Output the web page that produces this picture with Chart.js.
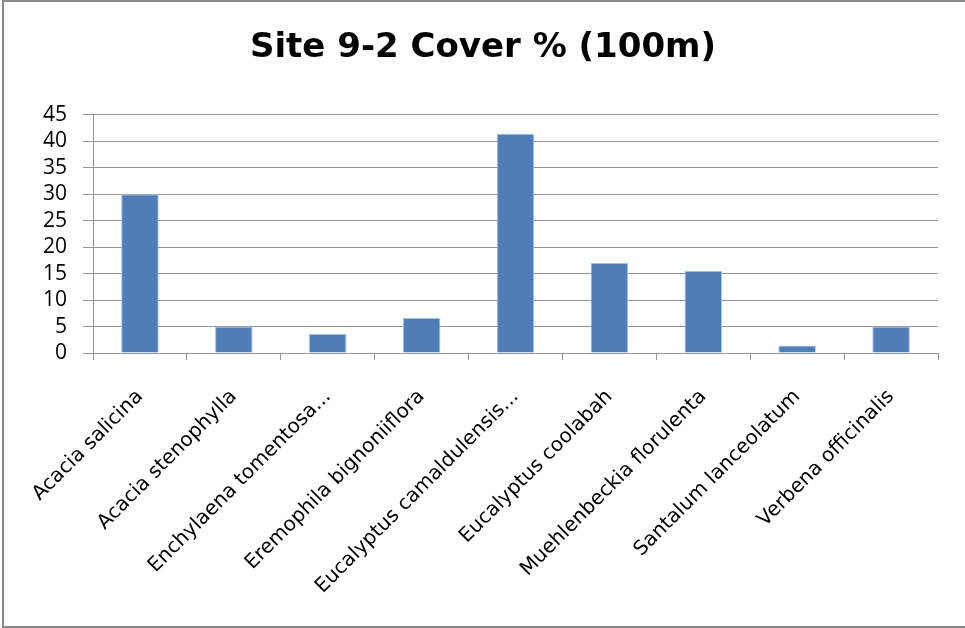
<!DOCTYPE html>
<html>
<head>
<meta charset="utf-8">
<script src="https://cdn.jsdelivr.net/npm/chart.js@4/dist/chart.umd.min.js"></script>
<style>
    body { margin: 0; background: #fff; }
    #frame { position: absolute; left: 2px; top: 0; width: 980px; height: 628px; border: 2px solid #8a8a8a; border-right: none; box-sizing: border-box; }
    #wrap { position: absolute; left: 0; top: 0; width: 965px; height: 628px; }
</style>
</head>
<body>
<div id="frame"></div>
<div id="wrap"><canvas id="chart" width="965" height="628"></canvas></div>
<script>
const species = ['Acacia salicina', 'Acacia stenophylla', 'Enchylaena tomentosa...', 'Eremophila bignoniiflora',
    'Eucalyptus camaldulensis...', 'Eucalyptus coolabah', 'Muehlenbeckia florulenta', 'Santalum lanceolatum',
    'Verbena officinalis']
const cover = [30, 5, 3.6, 6.6, 41.4, 17, 15.5, 1.4, 5]
const yTicks = [0, 5, 10, 15, 20, 25, 30, 35, 40, 45]
const title = 'Site 9-2 Cover % (100m)'

const gridColor = '#959595'

const ctx = document.getElementById('chart').getContext('2d')
const myChart = new Chart(ctx, {
    type: 'bar',
    data: {
        labels: species,
        datasets: [{
            data: cover,
            backgroundColor: '#4f7db8',
            borderColor: '#a9c0dd',
            borderWidth: 1,
            barPercentage: 0.4,
            categoryPercentage: 1
        }]
    },
    options: {
        responsive: false,
        animation: false,
        // left/right padding keeps the title centred on the page
        layout: { padding: { left: 28, right: 27, top: 0, bottom: 0 } },
        plugins: {
            legend: { display: false },
            tooltip: { enabled: false },
            title: {
                display: true,
                text: title,
                color: '#000',
                font: { family: 'DejaVu Sans', size: 34, weight: 'bold' },
                padding: { top: 28, bottom: 46 }
            }
        },
        scales: {
            x: {
                grid: { drawOnChartArea: false, color: gridColor, tickLength: 7, offset: true },
                border: { color: gridColor, width: 1 },
                ticks: {
                    color: '#000',
                    font: { family: 'DejaVu Sans', size: 20 },
                    maxRotation: 45,
                    minRotation: 45,
                    autoSkip: false,
                    padding: 25
                },
                afterFit: (s) => { s.height = 275 }
            },
            y: {
                min: 0,
                max: 45,
                afterBuildTicks: (s) => { s.ticks = yTicks.map(v => ({ value: v })) },
                grid: { color: gridColor, tickLength: 10 },
                border: { color: gridColor, width: 1 },
                ticks: {
                    color: '#000',
                    font: { family: 'Open Sans', size: 21 },
                    padding: 16,
                    autoSkip: false
                },
                afterFit: (s) => { s.width = 65 }
            }
        }
    }
})
</script>
</body>
</html>
